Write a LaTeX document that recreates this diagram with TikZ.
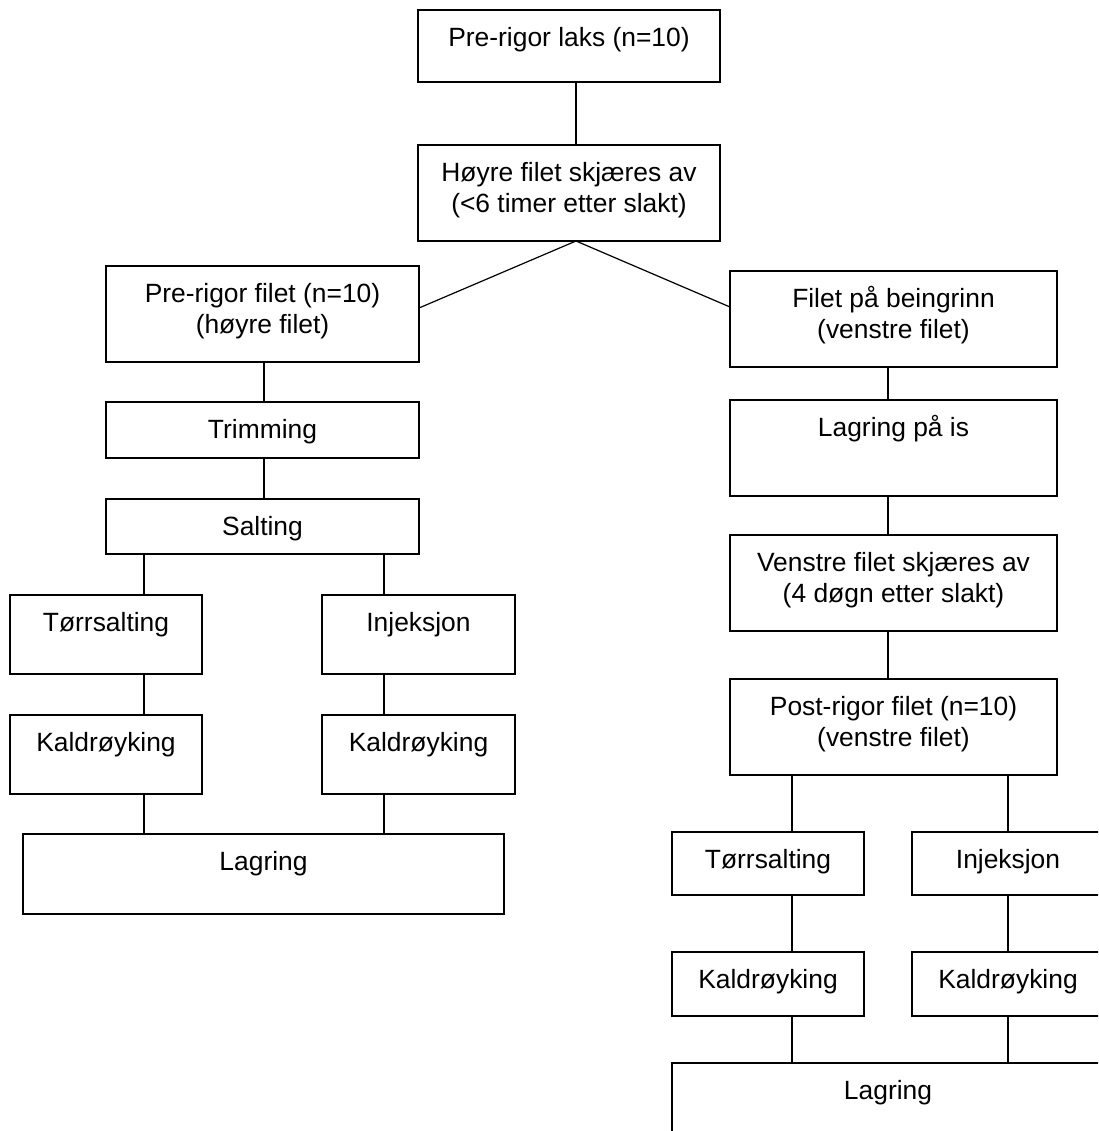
\documentclass[tikz,border=0pt]{standalone}
\usepackage{fontspec}
\setmainfont{Liberation Sans}
\tikzset{
  box/.style={draw, line width=1.2pt, inner sep=0pt, outer sep=0pt},
  txt/.style={anchor=north, inner sep=0pt, align=center, font=\fontsize{26.4}{30.4}\selectfont},
  link/.style={line width=1.2pt}
}
\newcommand\tstrut{\rule{0pt}{26.4pt}}
\newcommand\mkbox[6]{%
  \node[box, minimum width={#4-#2}, minimum height={#5-#3}] (#1) at ({(#2+#4)/2},{(#3+#5)/2}) {};
  \node[txt] (#1t) at ([yshift=-10.3pt]#1.north) {\tstrut #6};}
\begin{document}
\begin{tikzpicture}[x=1pt,y=-1pt]
  \useasboundingbox (0,0) rectangle (1098,1131);
  \fill[white] (0,0) rectangle (1098,1131);
  \clip (0,0) rectangle (1098,1131);
  % column coordinates for connectors
  \coordinate (x576) at (576,0);
  \coordinate (x264) at (264,0);
  \coordinate (x144) at (144,0);
  \coordinate (x384) at (384,0);
  \coordinate (x888) at (888,0);
  \coordinate (x792) at (792,0);
  \coordinate (x1008) at (1008,0);
  % boxes
  \mkbox{A}{418}{10}{720}{82}{Pre-rigor laks (n=10)}
  \mkbox{B}{418}{145}{720}{241}{Høyre filet skjæres av\\(<6 timer etter slakt)}
  \mkbox{C}{106}{266}{419}{362}{Pre-rigor filet (n=10)\\(høyre filet)}
  \mkbox{D}{730}{271}{1057}{367}{Filet på beingrinn\\(venstre filet)}
  \mkbox{E}{106}{402}{419}{458}{Trimming}
  \mkbox{F}{106}{499}{419}{554}{Salting}
  \mkbox{G}{10}{595}{202}{674}{Tørrsalting}
  \mkbox{H}{322}{595}{515}{674}{Injeksjon}
  \mkbox{I}{10}{715}{202}{794}{Kaldrøyking}
  \mkbox{J}{322}{715}{515}{794}{Kaldrøyking}
  \mkbox{K}{23}{834}{504}{914}{Lagring}
  \mkbox{L}{730}{400}{1057}{496}{Lagring på is}
  \mkbox{M}{730}{535}{1057}{631}{Venstre filet skjæres av\\(4 døgn etter slakt)}
  \mkbox{N}{730}{679}{1057}{775}{Post-rigor filet (n=10)\\(venstre filet)}
  \mkbox{O}{672}{832}{864}{895}{Tørrsalting}
  \mkbox{P}{912}{832}{1104}{895}{Injeksjon}
  \mkbox{Q}{672}{952}{864}{1016}{Kaldrøyking}
  \mkbox{R}{912}{952}{1104}{1016}{Kaldrøyking}
  \mkbox{S}{672}{1063}{1104}{1143}{Lagring}
  % connectors
  \draw[link] (A.south -| x576) -- (B.north -| x576);
  \draw[link] (B.south -| x576) -- ([yshift=6pt]C.east);
  \draw[link] (B.south -| x576) -- ([yshift=12pt]D.west);
  \draw[link] (C.south -| x264) -- (E.north -| x264);
  \draw[link] (E.south -| x264) -- (F.north -| x264);
  \draw[link] (F.south -| x144) -- (G.north -| x144);
  \draw[link] (F.south -| x384) -- (H.north -| x384);
  \draw[link] (G.south -| x144) -- (I.north -| x144);
  \draw[link] (H.south -| x384) -- (J.north -| x384);
  \draw[link] (I.south -| x144) -- (K.north -| x144);
  \draw[link] (J.south -| x384) -- (K.north -| x384);
  \draw[link] (D.south -| x888) -- (L.north -| x888);
  \draw[link] (L.south -| x888) -- (M.north -| x888);
  \draw[link] (M.south -| x888) -- (N.north -| x888);
  \draw[link] (N.south -| x792) -- (O.north -| x792);
  \draw[link] (N.south -| x1008) -- (P.north -| x1008);
  \draw[link] (O.south -| x792) -- (Q.north -| x792);
  \draw[link] (P.south -| x1008) -- (R.north -| x1008);
  \draw[link] (Q.south -| x792) -- (S.north -| x792);
  \draw[link] (R.south -| x1008) -- (S.north -| x1008);
\end{tikzpicture}
\end{document}
